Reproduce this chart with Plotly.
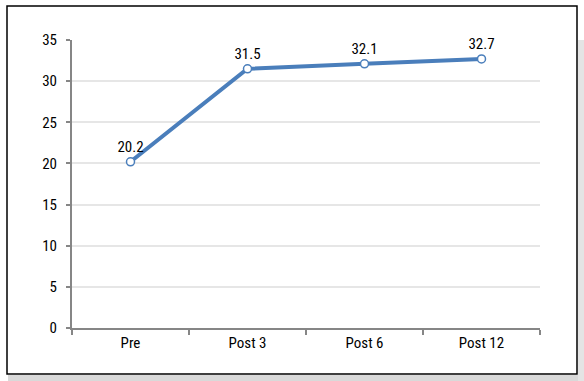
import plotly.graph_objects as go

categories = ["Pre", "Post 3", "Post 6", "Post 12"]
values = [20.2, 31.5, 32.1, 32.7]
y_ticks = [0, 5, 10, 15, 20, 25, 30, 35]

W, H = 584, 381
L, R, T, B = 72, 44, 40, 53
pw, ph = W - L - R, H - T - B

def px(x):
    return (x - L) / pw

def py(y):
    return (H - B - y) / ph

FONT = "Roboto Condensed, Liberation Sans Narrow, sans-serif"
BLUE = "#4a7ebb"
AXIS = "#868686"

fig = go.Figure()
fig.add_trace(go.Scatter(
    x=categories, y=values, mode="lines+markers+text",
    line=dict(color=BLUE, width=4),
    marker=dict(size=8, color="white", line=dict(color=BLUE, width=1.5)),
    text=[f"{v:.1f}" for v in values],
    textposition="top center",
    textfont=dict(family=FONT, size=15, color="black"),
    cliponaxis=False,
    showlegend=False,
))

shapes = [
    # shadow
    dict(type="rect", xref="paper", yref="paper", x0=px(8), x1=px(585), y0=py(375), y1=py(382),
         fillcolor="#d9d9d9", line=dict(width=0), layer="below"),
    dict(type="rect", xref="paper", yref="paper", x0=px(578), x1=px(585), y0=py(40), y1=py(382),
         fillcolor="#e4e4e4", line=dict(width=0), layer="below"),
    # border
    dict(type="rect", xref="paper", yref="paper", x0=px(7), x1=px(577), y0=py(374), y1=py(6),
         fillcolor="rgba(0,0,0,0)", line=dict(color="black", width=1.5), layer="above"),
]

fig.update_layout(
    width=W, height=H,
    margin=dict(l=L, r=R, t=T, b=B),
    paper_bgcolor="white", plot_bgcolor="white",
    font=dict(family=FONT, size=15, color="black"),
    shapes=shapes,
    xaxis=dict(
        type="category", tickson="boundaries",
        showline=True, linecolor=AXIS, linewidth=2,
        ticks="outside", ticklen=5, tickwidth=2, tickcolor=AXIS,
        showgrid=False, range=[-0.5, 3.5],
        tickfont=dict(family=FONT, size=15, color="black"),
    ),
    yaxis=dict(
        range=[0, 35], tickvals=y_ticks,
        showline=True, linecolor=AXIS, linewidth=2,
        ticks="outside", ticklen=4, tickwidth=2, tickcolor=AXIS,
        showgrid=True, gridcolor="#e6e6e6", gridwidth=1.5,
        zeroline=False,
        tickfont=dict(family=FONT, size=15, color="black"),
        ticklabelstandoff=6,
    ),
)

fig.write_html("out.html", config=dict(displayModeBar=False),
               post_script="document.body.style.margin='0'")
